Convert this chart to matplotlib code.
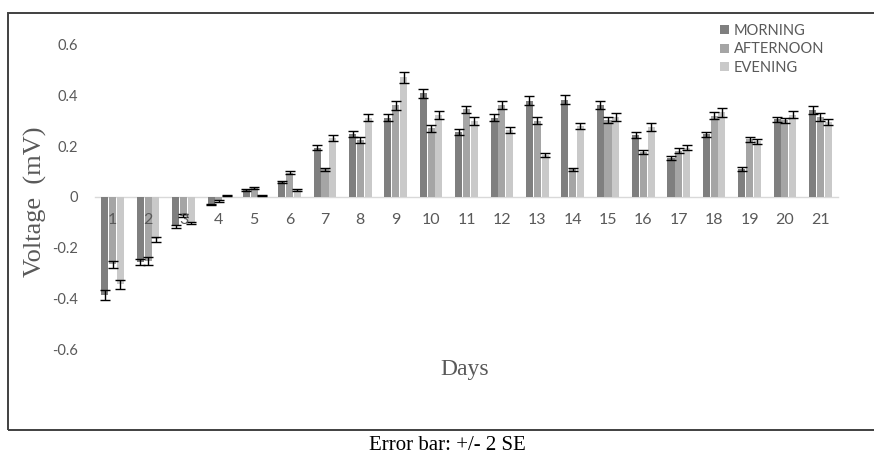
import matplotlib
matplotlib.use("Agg")
import matplotlib.pyplot as plt
import numpy as np
from matplotlib.patches import Rectangle

days = [str(d) for d in range(1, 22)]

morning = [-0.385, -0.257, -0.116, -0.030, 0.026, 0.057, 0.194, 0.247, 0.312, 0.407,
           0.256, 0.312, 0.378, 0.383, 0.361, 0.242, 0.151, 0.247, 0.108, 0.305, 0.341]
afternoon = [-0.266, -0.253, -0.074, -0.017, 0.035, 0.095, 0.108, 0.223, 0.361, 0.269,
             0.344, 0.361, 0.300, 0.108, 0.302, 0.177, 0.181, 0.320, 0.227, 0.302, 0.315]
evening = [-0.345, -0.168, -0.103, 0.004, 0.004, 0.026, 0.230, 0.312, 0.470, 0.322,
           0.298, 0.263, 0.163, 0.278, 0.315, 0.276, 0.194, 0.332, 0.219, 0.324, 0.295]

err_morning = [0.020, 0.012, 0.005, 0.003, 0.003, 0.004, 0.010, 0.012, 0.015, 0.018,
               0.012, 0.015, 0.018, 0.018, 0.017, 0.012, 0.008, 0.010, 0.008, 0.010, 0.015]
err_afternoon = [0.015, 0.015, 0.005, 0.003, 0.003, 0.007, 0.005, 0.012, 0.018, 0.012,
                 0.015, 0.015, 0.013, 0.007, 0.013, 0.008, 0.010, 0.015, 0.010, 0.010, 0.015]
err_evening = [0.018, 0.008, 0.005, 0.002, 0.002, 0.003, 0.012, 0.015, 0.022, 0.015,
               0.015, 0.013, 0.008, 0.013, 0.015, 0.015, 0.008, 0.017, 0.010, 0.015, 0.013]

series = [("MORNING", morning, err_morning, "#7f7f7f"),
          ("AFTERNOON", afternoon, err_afternoon, "#a5a5a5"),
          ("EVENING", evening, err_evening, "#c9c9c9")]

yticks = [-0.6, -0.4, -0.2, 0, 0.2, 0.4, 0.6]
ytick_labels = ["-0.6", "-0.4", "-0.2", "0", "0.2", "0.4", "0.6"]

W, H = 874, 457
fig = plt.figure(figsize=(W / 100, H / 100), dpi=100)
ax = fig.add_axes([95 / W, 1 - 400 / H, 743 / W, 381 / H])

x = np.arange(1, len(days) + 1)
bar_w = 0.20
step = 0.22
text_gray = "#595959"

for i, (name, vals, errs, color) in enumerate(series):
    pos = x + (i - 1) * step
    ax.bar(pos, vals, width=bar_w, color=color, label=name, zorder=2)
    ax.errorbar(pos, vals, yerr=errs, fmt="none", ecolor="black",
                elinewidth=1.0, capsize=3.5, capthick=1.0, zorder=3)

ax.set_xlim(0.5, len(days) + 0.5)
ax.set_ylim(-0.8, 0.7)

for side in ["top", "right", "left"]:
    ax.spines[side].set_visible(False)
ax.spines["bottom"].set_position(("data", 0))
ax.spines["bottom"].set_color("#d9d9d9")
ax.spines["bottom"].set_linewidth(1.0)
ax.spines["bottom"].set_zorder(1)
# day labels sit on top of the negative bars
ax.xaxis.set_zorder(4)

ax.set_xticks(x)
ax.set_xticklabels(days)
ax.set_yticks(yticks)
ax.set_yticklabels(ytick_labels)
ax.tick_params(axis="x", length=0, pad=12, labelsize=11.5, labelcolor=text_gray)
ax.tick_params(axis="y", length=0, pad=12, labelsize=10.5, labelcolor=text_gray)
for lbl in ax.get_xticklabels() + ax.get_yticklabels():
    lbl.set_fontfamily("Lato")

fig.text(465 / W, 1 - 370 / H, "Days", family="Liberation Serif", fontsize=17,
         color=text_gray, ha="center", va="center")
fig.text(35 / W, 1 - 202 / H, "Voltage  (mV)", family="Liberation Serif", fontsize=19,
         color=text_gray, ha="center", va="center", rotation=90)

leg = ax.legend(loc="upper left", bbox_to_anchor=(720 / W, 1 - 24 / H),
                bbox_transform=fig.transFigure, frameon=False,
                handlelength=0.6, handleheight=0.6, handletextpad=0.35,
                labelspacing=0.3, borderpad=0, borderaxespad=0,
                prop={"family": "Lato", "size": 10.5})
for t in leg.get_texts():
    t.set_color(text_gray)

# outer frame around the chart area
fig.patches.append(Rectangle((8 / W, 1 - 430 / H), 880 / W, 417 / H,
                             transform=fig.transFigure, fill=False,
                             edgecolor="#404040", linewidth=1.4))

fig.text(447 / W, 1 - 446 / H, "Error bar: +/- 2 SE", family="Liberation Serif",
         fontsize=15, color="black", ha="center", va="center")

fig.savefig("out.png", dpi=100)
